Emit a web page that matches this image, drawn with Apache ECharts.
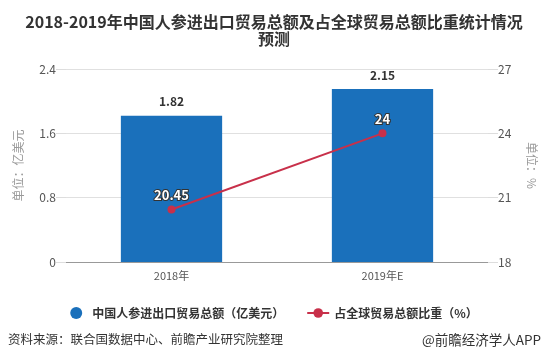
<!DOCTYPE html>
<html><head><meta charset="utf-8">
<script src="https://cdn.jsdelivr.net/npm/echarts@6/dist/echarts.min.js"></script>
<style>html,body{margin:0;padding:0;background:#fff}#c{width:548px;height:361px}</style>
</head><body><div id="c"></div>
<script>
var categories = ['2018年', '2019年E'];
var tradeValues = [1.82, 2.15];
var shareValues = [20.45, 24];
var leftTicks = [0, 0.8, 1.6, 2.4];
var rightTicks = [18, 21, 24, 27];
var seriesNames = ['中国人参进出口贸易总额（亿美元）', '占全球贸易总额比重（%）'];

var chart = echarts.init(document.getElementById('c'));
var font = '"Microsoft YaHei","Noto Sans CJK SC",sans-serif';
chart.setOption({
  animation: false,
  textStyle: {fontFamily: font},
  title: {
    text: '2018-2019年中国人参进出口贸易总额及占全球贸易总额比重统计情况\n预测',
    left: 'center', top: 8,
    textStyle: {fontSize: 16, fontWeight: 'bold', color: '#333', lineHeight: 17, fontFamily: font}
  },
  legend: {
    bottom: 37, left: 'center', itemGap: 22, itemWidth: 22, itemHeight: 12,
    textStyle: {fontSize: 12, color: '#333', fontWeight: 'bold'},
    data: [{name: seriesNames[0], icon: 'circle'}, {name: seriesNames[1]}]
  },
  graphic: [
    {type: 'text', left: 8, top: 333, style: {text: '资料来源：联合国数据中心、前瞻产业研究院整理', fill: '#333', font: '12.5px ' + font}},
    {type: 'text', right: 7, top: 333, style: {text: '@前瞻经济学人APP', fill: '#333', font: '13.5px ' + font}}
  ],
  grid: {left: 66, right: 60, top: 69, bottom: 99},
  xAxis: {
    type: 'category', data: categories,
    axisLine: {lineStyle: {color: '#999'}},
    axisTick: {alignWithLabel: true, lineStyle: {color: '#999'}},
    axisLabel: {color: '#555', fontSize: 11, margin: 8}
  },
  yAxis: [
    {
      type: 'value', min: 0, max: 2.4, interval: 0.8,
      name: '单位：亿美元', nameLocation: 'middle', nameRotate: 90, nameGap: 42,
      nameTextStyle: {color: '#999', fontSize: 12},
      axisLine: {show: false},
      axisTick: {show: true, length: 10, lineStyle: {color: '#ddd'}},
      axisLabel: {color: '#555', fontSize: 12, margin: 10, formatter: function(v){return leftTicks.indexOf(v) >= 0 ? String(v) : '';}},
      splitLine: {lineStyle: {color: '#e0e0e0'}}
    },
    {
      type: 'value', min: 18, max: 27, interval: 3,
      name: '单位：%', nameLocation: 'middle', nameRotate: -90, nameGap: 38,
      nameTextStyle: {color: '#999', fontSize: 12},
      axisLine: {show: false},
      axisTick: {show: true, length: 10, lineStyle: {color: '#ddd'}},
      axisLabel: {color: '#555', fontSize: 12, margin: 10, formatter: function(v){return rightTicks.indexOf(v) >= 0 ? String(v) : '';}},
      splitLine: {show: false}
    }
  ],
  series: [
    {
      name: seriesNames[0], type: 'bar', data: tradeValues, barWidth: '48%',
      itemStyle: {color: '#1a70bb'},
      label: {show: true, position: 'top', distance: 8, color: '#333', fontWeight: 'bold', fontSize: 12}
    },
    {
      name: seriesNames[1], type: 'line', yAxisIndex: 1, data: shareValues,
      symbol: 'circle', symbolSize: 8,
      lineStyle: {color: '#c8304a', width: 2}, itemStyle: {color: '#c8304a'},
      label: {show: true, position: 'top', distance: 4, color: '#fff', fontWeight: 'bold', fontSize: 13,
        textBorderColor: '#333', textBorderWidth: 2}
    }
  ]
});
</script></body></html>
